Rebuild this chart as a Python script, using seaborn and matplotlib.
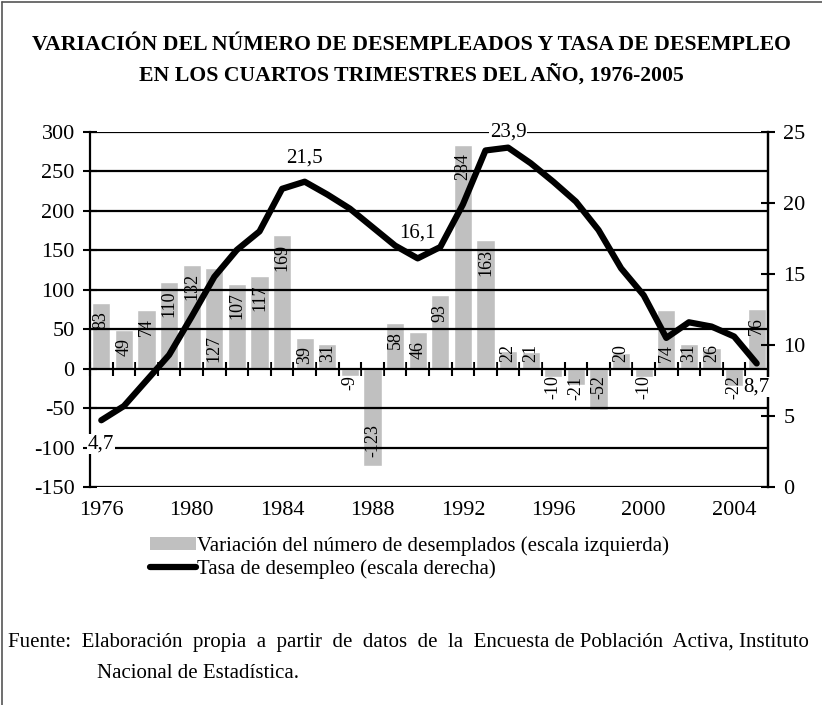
import numpy as np
import pandas as pd
import matplotlib.pyplot as plt
import seaborn as sns
from matplotlib.lines import Line2D
from matplotlib.patches import Patch

# Data
years = list(range(1976, 2006))
variacion = [83, 49, 74, 110, 132, 127, 107, 117, 169, 39,
             31, -9, -123, 58, 46, 93, 284, 163, 22, 21,
             -10, -21, -52, 20, -10, 74, 31, 26, -22, 76]
tasa = [4.7, 5.7, 7.5, 9.3, 12.0, 14.8, 16.7, 18.0, 21.0, 21.5,
        20.6, 19.6, 18.3, 17.0, 16.1, 16.9, 19.9, 23.7, 23.9, 22.8,
        21.5, 20.1, 18.1, 15.4, 13.5, 10.5, 11.6, 11.3, 10.6, 8.7]
tick_years = [1976, 1980, 1984, 1988, 1992, 1996, 2000, 2004]

# which line points get a value label, and where (offset in points)
line_labels = {1976: (0, -17), 1985: (0, 17), 1990: (0, 18), 1994: (0, 11), 2005: (0, -17)}
base_label_years = {1981, 2001}

df = pd.DataFrame({'Year': years, 'Variacion': variacion, 'Tasa': tasa})
df['pos'] = np.arange(len(df))

sns.set_style('white')
plt.rcParams['font.family'] = ['Liberation Serif', 'DejaVu Serif']
plt.rcParams['axes.unicode_minus'] = False
plt.rcParams['text.color'] = 'black'
plt.rcParams['xtick.color'] = 'black'
plt.rcParams['ytick.color'] = 'black'

fig = plt.figure(figsize=(8.22, 7.05), dpi=100)
ax = fig.add_axes([90 / 822, 1 - 487 / 705, (768 - 90) / 822, (487 - 132) / 705])

sns.barplot(data=df, x='Year', y='Variacion', color='#c0c0c0', width=0.8,
            saturation=1, ax=ax)
ax.set_ylim(-150, 300)
ax.set_xlim(-0.5, len(df) - 0.5)
ax.set_yticks(range(-150, 301, 50))
ax.set_xticks([years.index(y) for y in tick_years])
ax.set_xticklabels([str(y) for y in tick_years])
ax.set_xlabel('')
ax.set_ylabel('')
ax.tick_params(axis='x', length=0, pad=10, labelsize=16)
ax.tick_params(axis='y', direction='inout', length=10, width=1.5, pad=6, labelsize=16)
ax.grid(axis='y', color='black', lw=1.6)
ax.set_axisbelow(False)
for s in ['top', 'bottom']:
    ax.spines[s].set_visible(False)
for s in ['left', 'right']:
    ax.spines[s].set_color('black')
    ax.spines[s].set_linewidth(1.6)

# tick marks on the zero line between categories
zero_loc = (0 - (-150)) / (300 - (-150))
sec = ax.secondary_xaxis(zero_loc)
sec.set_xticks(np.arange(-0.5, len(df), 1))
sec.tick_params(direction='inout', length=10, width=1.5, labeltop=False, labelbottom=False)
sec.set_xticklabels([])
sec.spines['top'].set_visible(False)
sec.spines['bottom'].set_visible(False)

# bar value labels
for p, y, v in zip(df['pos'], df['Year'], df['Variacion']):
    if v > 0:
        if v >= 35 and y not in base_label_years:
            ax.annotate(str(v), (p, v), xytext=(0, -6), textcoords='offset points',
                        rotation=90, ha='center', va='top', fontsize=13)
        else:
            ax.annotate(str(v), (p, 0), xytext=(0, 5), textcoords='offset points',
                        rotation=90, ha='center', va='bottom', fontsize=13)
    else:
        if v < -60:
            ax.annotate(str(v), (p, v), xytext=(0, 6), textcoords='offset points',
                        rotation=90, ha='center', va='bottom', fontsize=13)
        else:
            ax.annotate(str(v), (p, 0), xytext=(0, -5), textcoords='offset points',
                        rotation=90, ha='center', va='top', fontsize=13)

# unemployment rate on the right scale
ax2 = ax.twinx()
sns.lineplot(data=df, x='pos', y='Tasa', color='black', lw=4.5, ax=ax2)
ax2.set_ylim(0, 25)
ax2.set_yticks(range(0, 26, 5))
ax2.set_ylabel('')
ax2.set_xlabel('')
ax2.grid(False)
ax2.tick_params(axis='y', direction='inout', length=10, width=1.5, pad=6, labelsize=16)
for s in ['top', 'bottom', 'left']:
    ax2.spines[s].set_visible(False)
ax2.spines['right'].set_color('black')
ax2.spines['right'].set_linewidth(1.6)

for y, off in line_labels.items():
    i = years.index(y)
    ax2.annotate(f'{tasa[i]:.1f}'.replace('.', ','), (i, tasa[i]), xytext=off,
                 textcoords='offset points', ha='center', va='center', fontsize=15,
                 bbox=dict(facecolor='white', edgecolor='none', pad=0.5))

# title
fig.text(0.5, 1 - 45 / 705, 'VARIACIÓN DEL NÚMERO DE DESEMPLEADOS Y TASA DE DESEMPLEO',
         ha='center', va='center', fontsize=15.7, fontweight='bold')
fig.text(0.5, 1 - 75 / 705, 'EN LOS CUARTOS TRIMESTRES DEL AÑO, 1976-2005',
         ha='center', va='center', fontsize=15.7, fontweight='bold')

# legend
handles = [Patch(facecolor='#c0c0c0', edgecolor='none'),
           Line2D([], [], color='black', lw=4.5)]
labels = ['Variación del número de desemplados (escala izquierda)',
          'Tasa de desempleo (escala derecha)']
fig.legend(handles, labels, loc='upper left', bbox_to_anchor=(150 / 822, 1 - 536 / 705),
           frameon=False, fontsize=15, handlelength=2.2, handleheight=0.6,
           handletextpad=0.05, labelspacing=0.15, borderpad=0, borderaxespad=0)

# source note
fig.text(8 / 822, 1 - 643 / 705,
         'Fuente:  Elaboración  propia  a  partir  de  datos  de  la  Encuesta de Población  Activa, Instituto',
         ha='left', va='center', fontsize=15)
fig.text(97 / 822, 1 - 673 / 705, 'Nacional de Estadística.', ha='left', va='center', fontsize=15)

# border on the left and top
fig.add_artist(Line2D([2 / 822, 2 / 822], [0, 1 - 2 / 705], color='#555555', lw=1.2))
fig.add_artist(Line2D([2 / 822, 1], [1 - 2 / 705, 1 - 2 / 705], color='#555555', lw=1.2))

fig.savefig('out.png', dpi=100)
